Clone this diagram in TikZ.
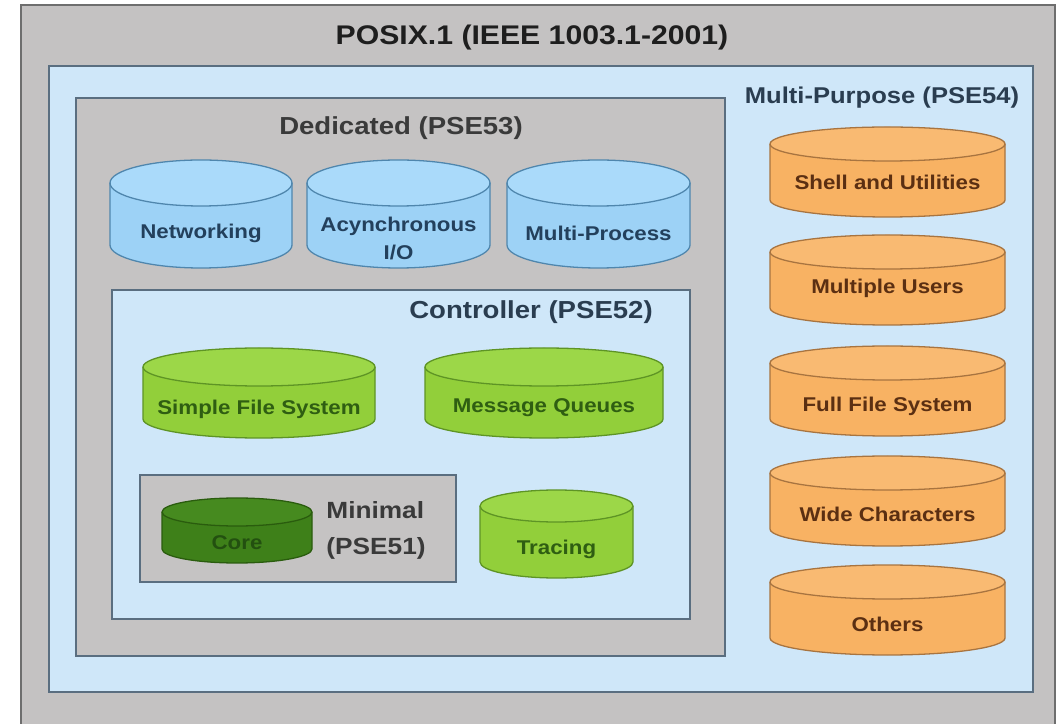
\documentclass[tikz,border=0pt]{standalone}
\usepackage{fontspec}
\setmainfont{Liberation Sans}
\definecolor{outergray}{HTML}{C4C2C2}
\definecolor{outerborder}{HTML}{6E6E6E}
\definecolor{lightblue}{HTML}{CFE7F9}
\definecolor{slateborder}{HTML}{5A6E80}
\definecolor{dedgray}{HTML}{C5C3C3}
\definecolor{bluefill}{HTML}{9DD2F6}
\definecolor{bluetop}{HTML}{AADAFA}
\definecolor{bluestroke}{HTML}{4F86AD}
\definecolor{bluetext}{HTML}{23405C}
\definecolor{greenfill}{HTML}{92CF3A}
\definecolor{greentop}{HTML}{9CD748}
\definecolor{greenstroke}{HTML}{5E9425}
\definecolor{greentext}{HTML}{2F5E12}
\definecolor{corefill}{HTML}{3E8019}
\definecolor{coretop}{HTML}{468A1F}
\definecolor{corestroke}{HTML}{2A5C0E}
\definecolor{coretext}{HTML}{235010}
\definecolor{orangefill}{HTML}{F8B263}
\definecolor{orangetop}{HTML}{F9BA72}
\definecolor{orangestroke}{HTML}{A87440}
\definecolor{orangetext}{HTML}{5B2F12}
\definecolor{darktitle}{HTML}{1E1E1E}
\definecolor{graytitle}{HTML}{3A3A3A}
\definecolor{slatetitle}{HTML}{2A3D50}
\newcommand\sx[1]{\scalebox{1.12}[1]{#1}}
% #1 name, #2 cx, #3 rx, #4 y top-ellipse centre, #5 y bottom-ellipse centre, #6 ry, #7 colour prefix, #8 text y, #9 text
\newcommand\cyl[9]{%
  \fill[#7fill] (#2-#3,#4) -- (#2-#3,#5) arc[start angle=180,end angle=360,x radius=#3,y radius=#6] -- (#2+#3,#4) arc[start angle=0,end angle=180,x radius=#3,y radius=#6] -- cycle;
  \fill[#7top] (#2,#4) ellipse[x radius=#3,y radius=#6];
  \draw[cylline,#7stroke] (#2-#3,#4) -- (#2-#3,#5) arc[start angle=180,end angle=360,x radius=#3,y radius=#6] -- (#2+#3,#4) arc[start angle=0,end angle=180,x radius=#3,y radius=#6] -- cycle;
  \draw[cylline,#7stroke] (#2-#3,#4) arc[start angle=180,end angle=360,x radius=#3,y radius=#6];
  \node[cyltext,text=#7text] (#1) at (#2,#8) {#9};
}
\begin{document}
\begin{tikzpicture}[x=0.03cm,y=0.03cm,
  boxline/.style={line width=1.7pt},
  cylline/.style={line width=1.1pt},
  cyltext/.style={font=\fontsize{17}{24}\selectfont\bfseries,inner sep=0pt},
  bigtitle/.style={font=\fontsize{23}{28}\selectfont\bfseries,inner sep=0pt},
  midtitle/.style={font=\fontsize{21}{26}\selectfont\bfseries,inner sep=0pt}]
\useasboundingbox (0,0) rectangle (1064,723);
\clip (0,0) rectangle (1064,723);
\fill[white] (0,0) rectangle (1064,723);
% frames
\draw[boxline,outerborder,fill=outergray] (21,718) rectangle (1055,-10);
\draw[boxline,slateborder,fill=lightblue] (49,657) rectangle (1033,31);
\draw[boxline,slateborder,fill=dedgray] (76,625) rectangle (725,67);
\draw[boxline,slateborder,fill=lightblue] (112,433) rectangle (690,104);
\draw[boxline,slateborder,fill=dedgray] (140,248) rectangle (456,141);
% titles
\node[bigtitle,text=darktitle] (posix) at (532,685) {\sx{POSIX.1 (IEEE 1003.1-2001)}};
\node[midtitle,text=graytitle] (dedicated) at (401,595) {\sx{Dedicated (PSE53)}};
\node[font=\fontsize{19.5}{24}\selectfont\bfseries,inner sep=0pt,text=slatetitle] (multipurpose) at (882,625) {\sx{Multi-Purpose (PSE54)}};
\node[midtitle,text=slatetitle] (controller) at (531,411) {\sx{Controller (PSE52)}};
\node[font=\fontsize{20}{30.5}\selectfont\bfseries,inner sep=0pt,text=graytitle] (minimal) at (376,194) {\sx{\begin{tabular}{@{}l@{}}Minimal\\(PSE51)\end{tabular}}};
% dedicated cylinders
\cyl{networking}{201}{91}{540}{478}{23}{blue}{490}{\sx{Networking}}
\cyl{asyncio}{398.5}{91.5}{540}{478}{23}{blue}{483}{\sx{\begin{tabular}{@{}c@{}}Acynchronous\\I/O\end{tabular}}}
\cyl{multiprocess}{598.5}{91.5}{540}{478}{23}{blue}{490}{\sx{Multi-Process}}
% controller cylinders
\cyl{simplefs}{259}{116}{356}{304}{19}{green}{314}{\sx{Simple File System}}
\cyl{msgqueues}{544}{119}{356}{304}{19}{green}{315}{\sx{Message Queues}}
\cyl{tracing}{556.5}{76.5}{217}{161}{16}{green}{174}{\sx{Tracing}}
% minimal
\cyl{core}{237}{75}{211}{174}{14}{core}{180}{\sx{Core}}
% multi-purpose cylinders
\cyl{shell}{887.5}{117.5}{579}{523}{17}{orange}{541}{\sx{Shell and Utilities}}
\cyl{multiusers}{887.5}{117.5}{471}{415}{17}{orange}{435}{\sx{Multiple Users}}
\cyl{fullfs}{887.5}{117.5}{360}{304}{17}{orange}{317}{\sx{Full File System}}
\cyl{widechars}{887.5}{117.5}{250}{194}{17}{orange}{209}{\sx{Wide Characters}}
\cyl{others}{887.5}{117.5}{141}{85}{17}{orange}{99}{\sx{Others}}
\end{tikzpicture}
\end{document}
